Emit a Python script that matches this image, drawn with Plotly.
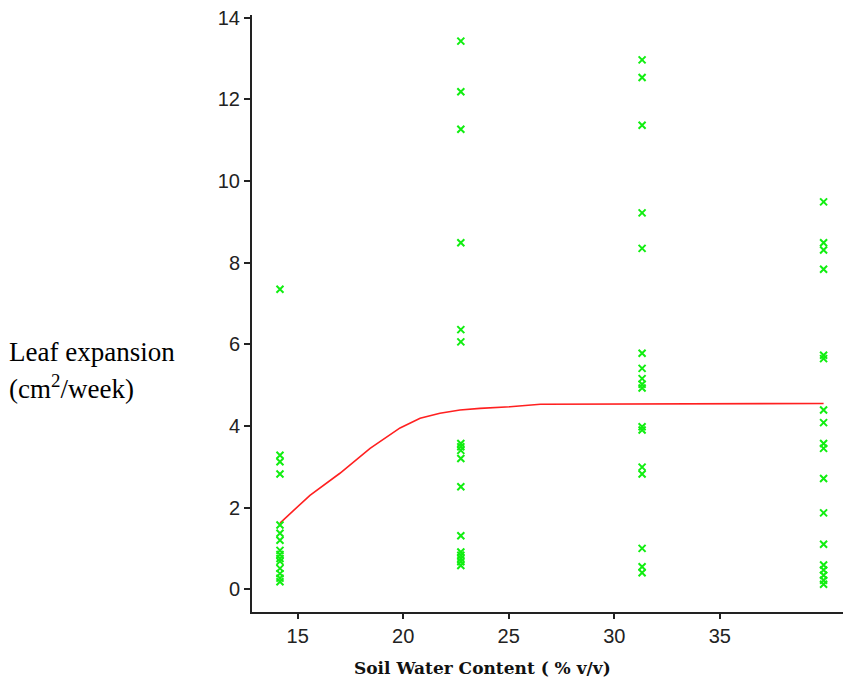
import plotly.graph_objects as go

# Data
col_x = [14.16, 22.73, 31.32, 39.92]
col1_y = [7.35, 3.28, 3.12, 2.82, 1.57, 1.37, 1.2, 0.95, 0.85, 0.75, 0.68, 0.51, 0.38, 0.27, 0.18]
col2_y = [13.43, 12.19, 11.27, 8.49, 6.36, 6.06, 3.57, 3.49, 3.4, 3.2, 2.51, 1.31, 0.91, 0.83, 0.75, 0.67, 0.58]
col3_y = [12.97, 12.54, 11.37, 9.22, 8.35, 5.78, 5.41, 5.16, 5.02, 4.93, 3.98, 3.9, 2.99, 2.82, 1.0, 0.55, 0.4]
col4_y = [9.49, 8.49, 8.31, 7.84, 5.73, 5.65, 4.39, 4.08, 3.57, 3.45, 2.71, 1.87, 1.1, 0.59, 0.47, 0.34, 0.22, 0.12]

fit_x = [14.16, 15.58, 17.0, 18.43, 19.85, 20.8, 21.74, 22.69, 23.64, 25.06, 26.5, 39.92]
fit_y = [1.62, 2.3, 2.84, 3.45, 3.95, 4.19, 4.31, 4.39, 4.43, 4.47, 4.53, 4.55]

x_ticks = [15, 20, 25, 30, 35]
y_ticks = [0, 2, 4, 6, 8, 10, 12, 14]

xs, ys = [], []
for cx, cy in zip(col_x, [col1_y, col2_y, col3_y, col4_y]):
    xs += [cx] * len(cy)
    ys += cy

green = "#11ee11"
fig = go.Figure()
fig.add_trace(go.Scatter(
    x=fit_x, y=fit_y, mode="lines",
    line=dict(color="#ff2020", width=1.6), hoverinfo="skip"))
fig.add_trace(go.Scatter(
    x=xs, y=ys, mode="markers",
    marker=dict(symbol="x-thin", size=7, color=green,
                line=dict(color=green, width=2))))

tick_font = dict(family="Liberation Sans, sans-serif", size=20, color="#222")

PW, PH = 591, 597  # plot area size in px
def px_x(px):
    return (px - 252) / PW
def px_y(py):
    return (612 - py) / PH

fig.update_layout(
    width=844, height=679,
    margin=dict(l=252, r=1, t=15, b=67),
    paper_bgcolor="white", plot_bgcolor="white",
    showlegend=False,
    xaxis=dict(range=[12.834, 40.84], tickvals=x_ticks, showgrid=False,
               zeroline=False, showline=True, linecolor="#222", linewidth=2,
               ticks="outside", ticklen=5, tickwidth=2, tickcolor="#222",
               tickfont=tick_font),
    yaxis=dict(range=[-0.56, 14.07], tickvals=y_ticks, showgrid=False,
               zeroline=False, showline=True, linecolor="#222", linewidth=2,
               ticks="outside", ticklen=6, tickwidth=2, tickcolor="#222",
               tickfont=tick_font),
    annotations=[
        dict(xref="paper", yref="paper", x=px_x(482), y=px_y(668),
             xanchor="center", yanchor="middle", showarrow=False,
             text="<b>Soil Water Content ( % v/v)</b>",
             font=dict(family="DejaVu Serif", size=17, color="#111")),
        dict(xref="paper", yref="paper", x=px_x(7), y=px_y(352),
             xanchor="left", yanchor="middle", showarrow=False,
             text="Leaf expansion",
             font=dict(family="Liberation Serif", size=27, color="#000")),
        dict(xref="paper", yref="paper", x=px_x(7), y=px_y(387),
             xanchor="left", yanchor="middle", showarrow=False,
             text="(cm<sup>2</sup>/week)",
             font=dict(family="Liberation Serif", size=27, color="#000")),
    ],
)

fig.write_html("out.html")
